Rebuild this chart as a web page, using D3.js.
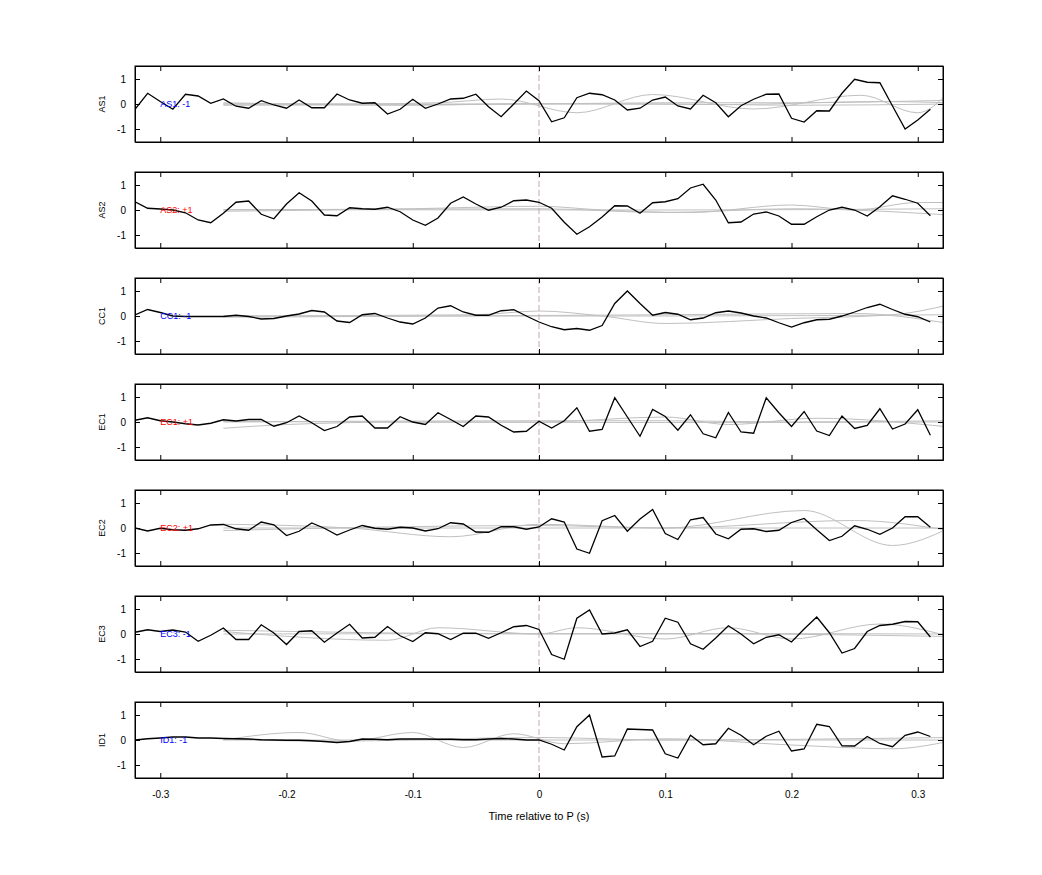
<!DOCTYPE html>
<html>
<head>
<meta charset="utf-8">
<script src="https://cdn.jsdelivr.net/npm/d3@7"></script>
<style>
	body { margin: 0; background: #fff; }
	text { font-family: "Liberation Sans", Arial, sans-serif; }
</style>
</head>
<body>
<svg id="chart" width="1042" height="875"></svg>
<script>
// stations, polarity labels and colours
const stations = ['AS1', 'AS2', 'CC1', 'EC1', 'EC2', 'EC3', 'ID1'];
const polarity = ['-1', '+1', '-1', '+1', '+1', '-1', '-1'];
const polarityColor = ['#0000ff', '#ff0000', '#0000ff', '#ff0000', '#ff0000', '#0000ff', '#0000ff'];

// black traces, samples every 0.01 s from -0.32 s
const startTime = -0.32;
const step = 0.01;
const traceAS1 = [-0.21, 0.43, 0.1, -0.21, 0.39, 0.32, 0.03, 0.2, -0.09, -0.17, 0.13, -0.04, -0.17, 0.16, -0.15, -0.15, 0.4, 0.16, 0.03, 0.05, -0.4, -0.21, 0.19, -0.17, 0, 0.2, 0.23, 0.39, -0.11, -0.51, 0, 0.52, 0.13, -0.71, -0.55, 0.25, 0.43, 0.37, 0.16, -0.24, -0.17, 0.16, 0.28, -0.08, -0.2, 0.35, 0.05, -0.51, -0.07, 0.19, 0.39, 0.4, -0.57, -0.72, -0.27, -0.28, 0.43, 0.99, 0.87, 0.85, -0.08, -1, -0.64, -0.21];
const traceAS2 = [0.33, 0.07, 0.04, 0, -0.11, -0.4, -0.51, -0.13, 0.31, 0.36, -0.17, -0.35, 0.24, 0.69, 0.36, -0.2, -0.23, 0.09, 0.05, 0.03, 0.11, -0.07, -0.4, -0.61, -0.32, 0.27, 0.52, 0.24, -0.01, 0.11, 0.37, 0.4, 0.31, 0.07, -0.49, -0.97, -0.67, -0.28, 0.17, 0.16, -0.13, 0.29, 0.33, 0.45, 0.88, 1.03, 0.4, -0.51, -0.48, -0.16, -0.08, -0.24, -0.57, -0.57, -0.27, 0, 0.11, 0, -0.24, 0.13, 0.57, 0.43, 0.27, -0.23];
const traceCC1 = [0.04, 0.26, 0.14, 0, -0.02, -0.02, -0.02, -0.02, 0.03, -0.02, -0.12, -0.1, 0, 0.08, 0.22, 0.16, -0.2, -0.26, 0.05, 0.1, -0.08, -0.24, -0.32, -0.08, 0.32, 0.41, 0.16, 0.03, 0.03, 0.21, 0.25, 0, -0.24, -0.43, -0.55, -0.5, -0.57, -0.38, 0.5, 1, 0.5, 0.03, 0.14, 0.07, -0.15, -0.08, 0.13, 0.2, 0.12, 0, -0.08, -0.27, -0.44, -0.27, -0.15, -0.13, 0, 0.16, 0.34, 0.47, 0.26, 0.07, -0.03, -0.24];
const traceEC1 = [0.07, 0.17, 0.05, 0, -0.07, -0.12, -0.05, 0.09, 0.04, 0.1, 0.1, -0.17, -0.03, 0.24, -0.03, -0.34, -0.18, 0.2, 0.24, -0.24, -0.24, 0.21, 0, -0.1, 0.37, 0.1, -0.18, 0.24, 0.2, -0.13, -0.4, -0.37, 0.03, -0.24, 0.05, 0.57, -0.37, -0.3, 0.97, 0.2, -0.57, 0.5, 0.22, -0.33, 0.29, -0.47, -0.63, 0.38, -0.4, -0.45, 0.97, 0.37, -0.18, 0.42, -0.36, -0.54, 0.24, -0.26, -0.14, 0.53, -0.28, -0.08, 0.49, -0.53];
const traceEC2 = [0, -0.12, -0.01, -0.07, -0.09, -0.03, 0.12, 0.14, -0.03, -0.09, 0.24, 0.13, -0.3, -0.13, 0.2, -0.01, -0.28, -0.08, 0.1, -0.01, -0.05, 0.03, 0, -0.12, -0.03, 0.21, 0.16, -0.16, -0.17, 0.05, 0.05, -0.05, 0.04, 0.37, 0.24, -0.84, -1.01, 0.29, 0.5, -0.13, 0.36, 0.74, -0.22, -0.46, 0.33, 0.42, -0.24, -0.43, -0.05, -0.03, -0.14, -0.09, 0.22, 0.38, -0.07, -0.5, -0.33, 0.09, -0.05, -0.25, 0, 0.45, 0.45, 0.03];
const traceEC3 = [0.07, 0.17, 0.1, 0.16, 0.08, -0.29, -0.05, 0.24, -0.22, -0.22, 0.37, 0.04, -0.42, 0.1, 0.13, -0.33, 0.04, 0.39, -0.16, -0.13, 0.3, -0.07, -0.3, 0.05, 0.01, -0.22, 0.03, 0.03, -0.17, 0.05, 0.29, 0.34, 0.18, -0.82, -1.01, 0.63, 0.96, 0, 0.04, 0.17, -0.5, -0.29, 0.63, 0.47, -0.39, -0.61, -0.16, 0.33, 0, -0.39, -0.13, -0.03, -0.32, 0.2, 0.68, 0.05, -0.76, -0.58, 0.1, 0.34, 0.39, 0.5, 0.49, -0.12];
const traceID1 = [0, 0.05, 0.08, 0.12, 0.12, 0.08, 0.08, 0.06, 0.05, 0.04, 0.01, 0, -0.01, -0.01, -0.03, -0.06, -0.1, -0.06, 0.04, 0.03, 0.01, 0.04, 0.04, 0.04, 0.03, 0.03, 0.01, 0.01, 0.04, 0.06, 0.04, 0, 0, -0.17, -0.4, 0.53, 1, -0.68, -0.64, 0.44, 0.42, 0.4, -0.55, -0.72, 0.19, -0.19, -0.15, 0.47, 0.19, -0.19, 0.15, 0.35, -0.44, -0.36, 0.63, 0.54, -0.23, -0.24, 0.14, -0.14, -0.27, 0.19, 0.32, 0.14];
const traces = [traceAS1, traceAS2, traceCC1, traceEC1, traceEC2, traceEC3, traceID1];

// grey comparison traces: [time, value] key points
const greyAS1 = [
	[[-0.25, 0], [-0.15, 0], [-0.08, 0.05], [-0.03, 0.2], [0.03, -0.35], [0.09, 0.38], [0.17, -0.2], [0.255, 0.35], [0.3, -0.35], [0.325, 0.5]],
	[[-0.25, -0.05], [0, 0], [0.1, 0.05], [0.2, 0.05], [0.325, 0.15]],
	[[-0.25, 0.05], [-0.1, -0.05], [0, 0.02], [0.15, -0.02], [0.27, 0.1], [0.325, 0.05]],
	[[-0.25, 0], [0.1, 0], [0.2, -0.05], [0.325, 0]],
];
const greyAS2 = [
	[[-0.25, -0.05], [-0.1, 0.05], [0, 0.15], [0.05, 0], [0.12, -0.1], [0.2, 0.2], [0.25, 0], [0.3, 0.3], [0.325, 0.3]],
	[[-0.25, 0], [0, 0.05], [0.1, -0.1], [0.2, 0.05], [0.325, -0.2]],
	[[-0.25, 0.02], [0.1, 0], [0.325, 0.05]],
];
const greyCC1 = [
	[[-0.25, 0], [-0.05, 0.05], [0, 0.2], [0.05, 0], [0.1, -0.3], [0.2, -0.1], [0.28, 0.05], [0.325, 0.45]],
	[[-0.25, -0.05], [0.1, 0.05], [0.25, 0.1], [0.325, -0.3]],
	[[-0.25, 0], [0.1, 0], [0.325, 0.05]],
];
const greyEC1 = [
	[[-0.25, -0.25], [-0.2, -0.1], [-0.1, 0], [0, 0], [0.1, 0.2], [0.15, -0.1], [0.22, 0.15], [0.325, -0.2]],
	[[-0.25, 0], [0, 0.05], [0.1, 0.05], [0.2, 0], [0.325, 0.05]],
	[[-0.25, 0.02], [0.1, -0.02], [0.325, 0]],
];
const greyEC2 = [
	[[-0.25, 0.15], [-0.15, 0], [-0.07, -0.35], [0, 0.15], [0.1, 0], [0.21, 0.7], [0.28, -0.7], [0.325, 0]],
	[[-0.25, -0.1], [0, 0.1], [0.1, 0], [0.25, 0.3], [0.325, -0.1]],
	[[-0.25, 0], [0.1, 0], [0.325, 0]],
];
const greyEC3 = [
	[[-0.25, 0.1], [-0.12, -0.25], [-0.08, 0.25], [0, 0], [0.03, 0.25], [0.1, -0.2], [0.15, 0.25], [0.2, -0.2], [0.27, 0.4], [0.325, -0.1]],
	[[-0.25, 0.15], [0, 0], [0.15, 0], [0.325, -0.1]],
	[[-0.25, 0], [0.1, 0.02], [0.325, 0]],
];
const greyID1 = [
	[[-0.25, 0], [-0.19, 0.3], [-0.15, -0.05], [-0.1, 0.3], [-0.06, -0.3], [-0.02, 0.25], [0.02, -0.15], [0.1, 0.05], [0.2, -0.2], [0.28, -0.35], [0.325, -0.05]],
	[[-0.25, 0.05], [-0.17, -0.05], [0, 0.1], [0.1, 0], [0.325, 0.1]],
	[[-0.25, 0], [0.1, 0], [0.325, 0]],
];
const greys = [greyAS1, greyAS2, greyCC1, greyEC1, greyEC2, greyEC3, greyID1];

const xTicks = [-0.3, -0.2, -0.1, 0, 0.1, 0.2, 0.3];
const yTicks = [-1, 0, 1];

const left = 135, right = 943, top0 = 66, panelH = 76, panelGap = 106;
const svg = d3.select('#chart');

const x = d3.scaleLinear().domain([-0.32, 0.32]).range([left, right]);
const plainNum = d => String(d);

stations.forEach((name, i) => {
	const top = top0 + i * panelGap;
	const y = d3.scaleLinear().domain([-1.52, 1.52]).range([top + panelH, top]);
	const isLast = i === stations.length - 1;
	const g = svg.append('g');
	const clipId = 'clip' + i;
	g.append('clipPath').attr('id', clipId).append('rect')
		.attr('x', left).attr('y', top).attr('width', right - left).attr('height', panelH);

	const plot = g.append('g').attr('clip-path', `url(#${clipId})`);

	// grey traces
	const greyLine = d3.line().x(d => x(d[0])).y(d => y(d[1])).curve(d3.curveMonotoneX);
	greys[i].forEach(pts => {
		plot.append('path').attr('d', greyLine(pts))
			.attr('fill', 'none').attr('stroke', '#c0c0c0').attr('stroke-width', 1);
	});

	// P arrival marker
	plot.append('line')
		.attr('x1', x(0)).attr('x2', x(0)).attr('y1', top).attr('y2', top + panelH)
		.attr('stroke', '#c8a8a8').attr('stroke-width', 1).attr('stroke-dasharray', '6,3');

	// black trace
	const blackLine = d3.line()
		.x((d, j) => x(startTime + j * step))
		.y(d => y(d));
	plot.append('path').attr('d', blackLine(traces[i]))
		.attr('fill', 'none').attr('stroke', '#000').attr('stroke-width', 1.3);

	plot.append('text')
		.attr('x', x(-0.3)).attr('y', y(0)).attr('dy', '0.35em')
		.attr('font-size', 9).attr('fill', polarityColor[i])
		.text(`${name}: ${polarity[i]}`);

	// axes (inward ticks, box)
	const bottomAxis = d3.axisBottom(x).tickValues(xTicks).tickSizeInner(-5).tickSizeOuter(0)
		.tickPadding(13).tickFormat(isLast ? plainNum : '');
	const topAxis = d3.axisTop(x).tickValues(xTicks).tickSizeInner(-5).tickSizeOuter(0).tickFormat('');
	const leftAxis = d3.axisLeft(y).tickValues(yTicks).tickSizeInner(-5).tickSizeOuter(0)
		.tickPadding(9).tickFormat(plainNum);
	const rightAxis = d3.axisRight(y).tickValues(yTicks).tickSizeInner(-5).tickSizeOuter(0).tickFormat('');

	[
		g.append('g').attr('transform', `translate(0,${top + panelH})`).call(bottomAxis),
		g.append('g').attr('transform', `translate(0,${top})`).call(topAxis),
		g.append('g').attr('transform', `translate(${left},0)`).call(leftAxis),
		g.append('g').attr('transform', `translate(${right},0)`).call(rightAxis),
	].forEach(a => {
		a.select('.domain').attr('stroke', '#000');
		a.selectAll('text').attr('font-size', 10).attr('fill', '#000')
			.attr('font-family', '"Liberation Sans", Arial, sans-serif');
	});

	g.append('rect').attr('x', left).attr('y', top).attr('width', right - left).attr('height', panelH)
		.attr('fill', 'none').attr('stroke', '#000').attr('stroke-width', 1);

	g.append('text')
		.attr('transform', `translate(105,${y(0)}) rotate(-90)`)
		.attr('text-anchor', 'middle').attr('font-size', 9).text(name);
});

svg.append('text')
	.attr('x', x(0)).attr('y', 820).attr('text-anchor', 'middle')
	.attr('font-size', 11).text('Time relative to P (s)');
</script>
</body>
</html>
